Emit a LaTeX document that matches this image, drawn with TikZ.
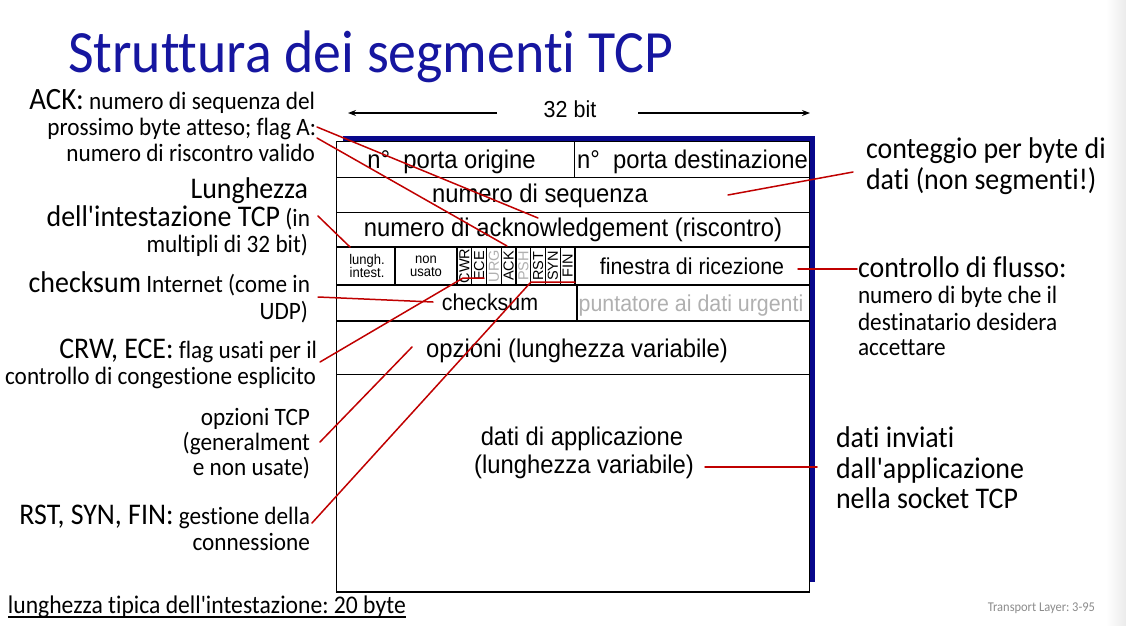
\documentclass[tikz,border=0pt]{standalone}
\usepackage{fontspec}
\setmainfont{Carlito}[FakeStretch=0.93, Ligatures={CommonOff,TeXOff}]
\newfontfamily\arialfam{Liberation Sans}[FakeStretch=0.93, Ligatures={CommonOff,TeXOff}]
\newfontfamily\flagfam{Liberation Sans}
\usetikzlibrary{arrows.meta}
\frenchspacing

\definecolor{titleblue}{RGB}{22,22,160}
\definecolor{shadowblue}{RGB}{8,8,140}
\definecolor{callred}{RGB}{192,0,0}
\definecolor{fadedgray}{RGB}{176,176,176}
\definecolor{footgray}{RGB}{140,140,140}

% font size in points, leading equal to size
\newcommand\fsz[1]{\fontsize{#1}{#1}\selectfont}

\tikzset{
  txt/.style={inner sep=0pt, outer sep=0pt},
  lblR/.style={txt, anchor=base east},
  lblL/.style={txt, anchor=base west},
  field/.style={txt, anchor=base, font=\arialfam\fsz{25.6}},
  flag/.style={txt, rotate=90, font=\flagfam\fsz{14.5}},
  cell/.style={draw=black, line width=1.3pt},
  callout/.style={draw=callred, line width=1.5pt, line cap=round, line join=round},
  widtharrow/.style={draw=black, line width=1.1pt, -{Stealth[length=8pt,width=6pt]}},
}

\begin{document}
\begin{tikzpicture}[x=1pt,y=-1pt]
\useasboundingbox (0,0) rectangle (1126,625);
\fill[white] (0,0) rectangle (1126,625);
\shade[left color=white, right color=black!8] (1106,0) rectangle (1126,625);

% title
\node[lblL, text=titleblue, font=\fsz{60}] (title) at (68,72) {Struttura dei segmenti TCP};

% header width indicator
\node[field, font=\arialfam\fsz{23.1}] (bits) at (570,117) {32 bit};
\coordinate (bitsL) at (348,113);
\coordinate (bitsR) at (810,113);
\coordinate (bitsLs) at (497,113);
\coordinate (bitsRs) at (638,113);
\draw[widtharrow] (bitsLs) -- (bitsL);
\draw[widtharrow] (bitsRs) -- (bitsR);

% segment frame with its shadow
\fill[shadowblue] (343,136) rectangle (815,582);
\filldraw[fill=white, cell] (336.5,141.5) rectangle (809.5,592);

% row separators
\foreach \yy in {177.5,212.5,247,285,321,374.5}
  \draw[cell] (336.5,\yy) -- (809.5,\yy);
% column separators
\draw[cell] (574.5,141.5) -- (574.5,177.5);
\draw[cell] (395,247) -- (395,285);
\foreach \i in {0,...,8}
  \draw[cell, line width=1.1pt] (457+14.75*\i,247) -- (457+14.75*\i,285);
\draw[cell] (577,285) -- (577,321);

% field names
\node[field] (srcport) at (451.5,168) {n°~ porta origine};
\node[field] (dstport) at (692.5,168) {n°~ porta destinazione};
\node[field] (seqnum) at (540,202) {numero di sequenza};
\node[field] (acknum) at (573,236) {numero di acknowledgement (riscontro)};
\node[txt, align=center, font=\arialfam\fsz{14}] (hlen) at (367,266) {lungh.\\[-1pt]intest.};
\node[txt, align=center, font=\arialfam\fsz{14}] (unused) at (426,266) {non\\[-1pt]usato};
\node[flag] (fCWR) at (464.4,266) {CWR};
\node[flag] (fECE) at (479.1,266) {ECE};
\node[flag, text=fadedgray] (fURG) at (493.9,266) {URG};
\node[flag] (fACK) at (508.6,266) {ACK};
\node[flag, text=fadedgray] (fPSH) at (523.4,266) {PSH};
\node[flag] (fRST) at (538.1,266) {RST};
\node[flag] (fSYN) at (552.9,266) {SYN};
\node[flag] (fFIN) at (567.6,266) {FIN};
\node[field, font=\arialfam\fsz{23}] (window) at (692,274) {finestra di ricezione};
\node[field, font=\arialfam\fsz{23}] (csum) at (490,310) {checksum};
\node[field, font=\arialfam\fsz{23}, text=fadedgray] (urgptr) at (691,311) {puntatore ai dati urgenti};
\node[field] (options) at (577,357) {opzioni (lunghezza variabile)};
\node[field] (appdata1) at (582,445) {dati di applicazione};
\node[field] (appdata2) at (584,473) {(lunghezza variabile)};

% explanations on the left
\node[lblR] (ack1) at (315,109) {\fsz{31}ACK:\fsz{25} numero di sequenza del};
\node[lblR, font=\fsz{25}] (ack2) at (316,135) {prossimo byte atteso; flag A:};
\node[lblR, font=\fsz{25}] (ack3) at (315,161) {numero di riscontro valido};
\node[lblR, font=\fsz{30}] (hl1) at (308,198) {Lunghezza};
\node[lblR] (hl2) at (310,226) {\fsz{30}dell'intestazione TCP\fsz{25} (in};
\node[lblR, font=\fsz{25}] (hl3) at (308,252) {multipli di 32 bit)};
\node[lblR] (cs1) at (310,292) {\fsz{30}checksum\fsz{25} Internet (come in};
\node[lblR, font=\fsz{25}] (cs2) at (308,319) {UDP)};
\node[lblR] (ce1) at (317,358) {\fsz{30}CRW, ECE:\fsz{25} flag usati per il};
\node[lblR, font=\fsz{25}] (ce2) at (316,384) {controllo di congestione esplicito};
\node[lblR, font=\fsz{25}] (op1) at (310,425) {opzioni TCP};
\node[lblR, font=\fsz{25}] (op2) at (310,450) {(generalment};
\node[lblR, font=\fsz{25}] (op3) at (310,475) {e non usate)};
\node[lblR] (rs1) at (310,524) {\fsz{30}RST, SYN, FIN:\fsz{25} gestione della};
\node[lblR, font=\fsz{25}] (rs2) at (310,550) {connessione};

% explanations on the right
\node[lblL, font=\fsz{30}] (cnt1) at (866,158) {conteggio per byte di};
\node[lblL, font=\fsz{30}] (cnt2) at (866,189) {dati (non segmenti!)};
\node[lblL, font=\fsz{30}] (fc1) at (858,277) {controllo di flusso:};
\node[lblL, font=\fsz{25}] (fc2) at (858,303) {numero di byte che il};
\node[lblL, font=\fsz{25}] (fc3) at (858,330) {destinatario desidera};
\node[lblL, font=\fsz{25}] (fc4) at (858,355) {accettare};
\node[lblL, font=\fsz{30}] (ad1) at (836,447) {dati inviati};
\node[lblL, font=\fsz{30}] (ad2) at (836,478) {dall'applicazione};
\node[lblL, font=\fsz{30}] (ad3) at (836,508) {nella socket TCP};

% footer
\node[lblL, font=\fsz{25.4}] (typical) at (8,613) {lunghezza tipica dell'intestazione: 20 byte};
\draw[black, line width=1.2pt] ([yshift=-4pt]typical.base west) -- ([yshift=-4pt]typical.base east);
\node[lblR, font=\fsz{13.4}, text=footgray] (slideno) at (1095,611) {Transport Layer: 3-95};

% callout end points
\coordinate (cAckA) at (317,127);
\coordinate (cAckRow) at (538,218);
\coordinate (cAckB) at (317,138);
\coordinate (cAckFlag) at (507,246);
\coordinate (cHl) at (318,216);
\coordinate (cHlCell) at (350,247);
\coordinate (cCs) at (318,297);
\coordinate (cCsCell) at (433,302);
\coordinate (cCe) at (320,362);
\coordinate (cCeKnee) at (463,278);
\coordinate (cCeEnd) at (484,278);
\coordinate (cOp) at (320,442);
\coordinate (cOpCell) at (412,347);
\coordinate (cRs) at (312,523);
\coordinate (cRsKnee) at (531,282);
\coordinate (cRsEnd) at (575,282);
\coordinate (cSeqCell) at (728,195);
\coordinate (cCnt) at (853,172);
\coordinate (cWinCell) at (798,269);
\coordinate (cFc) at (857,269);
\coordinate (cAppCell) at (705,467);
\coordinate (cAd) at (817,467);

% callouts
\draw[callout] (cAckA) -- (cAckRow);
\draw[callout] (cAckB) -- (cAckFlag);
\draw[callout] (cHl) -- (cHlCell);
\draw[callout] (cCs) -- (cCsCell);
\draw[callout] (cCe) -- (cCeKnee) -- (cCeEnd);
\draw[callout] (cOp) -- (cOpCell);
\draw[callout] (cRs) -- (cRsKnee) -- (cRsEnd);
\draw[callout] (cSeqCell) -- (cCnt);
\draw[callout] (cWinCell) -- (cFc);
\draw[callout] (cAppCell) -- (cAd);
\end{tikzpicture}
\end{document}
